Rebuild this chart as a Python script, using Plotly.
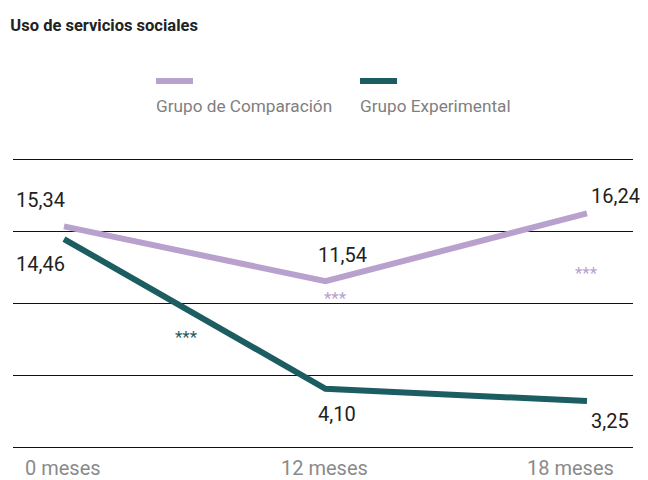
import plotly.graph_objects as go

periodos = ["0 meses", "12 meses", "18 meses"]
comparacion = [15.34, 11.54, 16.24]
experimental = [14.46, 4.10, 3.25]
etiquetas_comp = ["15,34", "11,54", "16,24"]
etiquetas_exp = ["14,46", "4,10", "3,25"]

# significance marks: (x position in category units, y value, series)
estrellas = [(0.47, 7.7, "exp"), (1.04, 10.4, "comp"), (2.0, 12.1, "comp")]

MORADO = "#b9a1cd"
VERDE = "#1b5d61"
FONT = "Roboto"

T, B, L, R = 157, 30, 13, 15
PH = 480 - T - B
PW = 648 - L - R

fig = go.Figure()
xs = list(range(len(periodos)))
fig.add_trace(go.Scatter(x=xs, y=comparacion, mode="lines",
                         line=dict(color=MORADO, width=6), name="Grupo de Comparación"))
fig.add_trace(go.Scatter(x=xs, y=experimental, mode="lines",
                         line=dict(color=VERDE, width=6), name="Grupo Experimental"))

ann = []
lbl = dict(showarrow=False, font=dict(family=FONT, size=20, color="#222"), xref="x", yref="y")
# comparison labels
ann.append(dict(x=0, y=comparacion[0], text=etiquetas_comp[0], xanchor="right", xshift=3, yshift=26, **lbl))
ann.append(dict(x=1, y=comparacion[1], text=etiquetas_comp[1], xanchor="left", xshift=-9, yshift=26, **lbl))
ann.append(dict(x=2, y=comparacion[2], text=etiquetas_comp[2], xanchor="left", xshift=2, yshift=17, **lbl))
# experimental labels
ann.append(dict(x=0, y=experimental[0], text=etiquetas_exp[0], xanchor="right", xshift=3, yshift=-25, **lbl))
ann.append(dict(x=1, y=experimental[1], text=etiquetas_exp[1], xanchor="left", xshift=-9, yshift=-25, **lbl))
ann.append(dict(x=2, y=experimental[2], text=etiquetas_exp[2], xanchor="left", xshift=2, yshift=-20, **lbl))

for x, y, s in estrellas:
    ann.append(dict(x=x, y=y, text="***", showarrow=False, xref="x", yref="y",
                    font=dict(family=FONT, size=17, color=VERDE if s == "exp" else MORADO)))

# x category labels
for i, p in enumerate(periodos):
    ann.append(dict(x=i, y=0, xref="x", yref="y", text=p, showarrow=False,
                    yanchor="middle", yshift=-20, xshift=(-16 if i == 2 else -1),
                    font=dict(family=FONT, size=20, color="#8a8a8a")))

# legend drawn by hand: swatch above label
leg = [("Grupo de Comparación", MORADO, 156), ("Grupo Experimental", VERDE, 360)]
shapes = []
for name, col, px0 in leg:
    shapes.append(dict(type="line", xref="paper", yref="paper",
                       x0=(px0 - L) / PW, x1=(px0 + 37 - L) / PW,
                       y0=(480 - B - 81) / PH, y1=(480 - B - 81) / PH,
                       line=dict(color=col, width=6)))
    ann.append(dict(x=(px0 - 2 - L) / PW, y=(480 - B - 106) / PH, xref="paper", yref="paper",
                    xanchor="left", yanchor="middle", text=name, showarrow=False,
                    font=dict(family=FONT, size=17.2, color="#808080")))

fig.update_layout(
    width=648, height=480,
    margin=dict(l=L, r=R, t=T, b=B),
    paper_bgcolor="white", plot_bgcolor="white",
    showlegend=False,
    title=dict(text="<b>Uso de servicios sociales</b>", x=0.016, xanchor="left",
               y=0.948, yanchor="middle", font=dict(family=FONT, size=16.5, color="#222")),
    xaxis=dict(range=[-0.195, 2.176], showgrid=False, zeroline=False,
               showticklabels=False, ticks=""),
    yaxis=dict(range=[-0.14, 20.14], tickvals=[0, 5, 10, 15, 20], showticklabels=False,
               showgrid=True, gridcolor="#111", gridwidth=1, zeroline=False, ticks=""),
    annotations=ann, shapes=shapes,
    font=dict(family=FONT),
)

fig.write_html("out.html", config={"displayModeBar": False},
               post_script="document.body.style.margin='0';")
